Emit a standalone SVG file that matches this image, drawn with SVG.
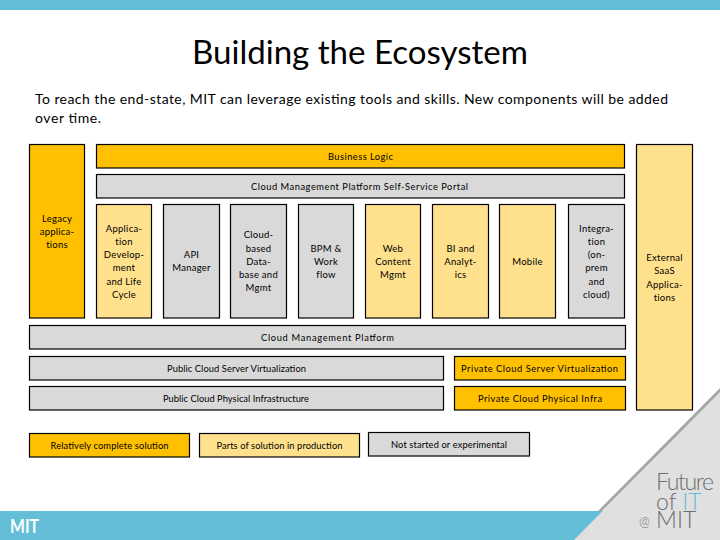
<svg xmlns="http://www.w3.org/2000/svg" width="720" height="540" viewBox="0 0 720 540">
<style>
text{font-family:"Lato","Carlito","Open Sans",sans-serif;fill:#000}
.l{font-size:9.5px;text-anchor:middle;letter-spacing:.25px}
.w{font-size:9.3px;text-anchor:middle}
.b{stroke:#000;stroke-width:1.2}
.o{fill:#ffc000}.y{fill:#ffe08c}.g{fill:#d9d9d9}
.f{fill:#6e6e6e;font-weight:300}
</style>
<rect width="720" height="540" fill="#fff"/>
<rect width="720" height="10" fill="#64bed8"/>
<rect y="511" width="610" height="29" fill="#64bed8"/>
<polygon points="720,388 720,393 602,511 598,511" fill="#a6a6a6"/>
<polygon points="720,392 720,540 574,540" fill="#e0e0e0"/>
<text x="10" y="533" font-size="19" font-weight="700" style="fill:#fff" textLength="29" lengthAdjust="spacingAndGlyphs">MIT</text>
<g id="logo">
<text class="f" font-size="23"><tspan x="656" y="490" textLength="58">Future</tspan><tspan x="656" y="510">of <tspan style="fill:#64bed8">IT</tspan></tspan><tspan x="639" y="526" font-size="13">@</tspan><tspan x="656" y="528">MIT</tspan></text>
</g>
<text x="360" y="64" font-size="33" text-anchor="middle" textLength="336" lengthAdjust="spacingAndGlyphs">Building the Ecosystem</text>
<text x="35" y="104" font-size="14" textLength="633" lengthAdjust="spacing">To reach the end-state, MIT can leverage existing tools and skills.  New components will be added</text>
<text x="35" y="123" font-size="14" textLength="66" lengthAdjust="spacing">over time.</text>
<g id="legacy"><rect class="b o" x="29.5" y="144.5" width="55" height="173.5"/><text class="l"><tspan x="57" y="222">Legacy</tspan><tspan x="57" y="235">applica-</tspan><tspan x="57" y="248">tions</tspan></text></g>
<g id="business-logic"><rect class="b o" x="96.5" y="144.5" width="528" height="23.5"/><text class="w" x="360.500" y="160" textLength="65">Business Logic</text></g>
<g id="portal"><rect class="b g" x="96.500" y="174.500" width="528" height="23.500"/><text class="w" x="359.500" y="190" textLength="217">Cloud Management Platform Self-Service Portal</text></g>
<g id="app-dev"><rect class="b y" x="96.5" y="204.5" width="55" height="113.500"/><text class="l"><tspan x="124" y="232">Applica-</tspan><tspan x="124" y="245">tion</tspan><tspan x="124" y="258">Develop-</tspan><tspan x="124" y="271">ment</tspan><tspan x="124" y="285">and Life</tspan><tspan x="124" y="298">Cycle</tspan></text></g>
<g id="api"><rect class="b g" x="163.500" y="204.500" width="56" height="113.500"/><text class="l"><tspan x="191.500" y="258">API</tspan><tspan x="191.500" y="271">Manager</tspan></text></g>
<g id="db"><rect class="b g" x="230.500" y="204.500" width="56" height="113.500"/><text class="l"><tspan x="258.500" y="238">Cloud-</tspan><tspan x="258.500" y="252">based</tspan><tspan x="258.500" y="265">Data-</tspan><tspan x="258.500" y="278">base and</tspan><tspan x="258.500" y="291">Mgmt</tspan></text></g>
<g id="bpm"><rect class="b g" x="298.500" y="204.500" width="55" height="113.500"/><text class="l"><tspan x="326" y="252">BPM &amp;</tspan><tspan x="326" y="265">Work</tspan><tspan x="326" y="278">flow</tspan></text></g>
<g id="web"><rect class="b y" x="365.500" y="204.500" width="55" height="113.500"/><text class="l"><tspan x="393" y="252">Web</tspan><tspan x="393" y="265">Content</tspan><tspan x="393" y="278">Mgmt</tspan></text></g>
<g id="bi"><rect class="b y" x="432.500" y="204.500" width="56" height="113.500"/><text class="l"><tspan x="460.500" y="252">BI and</tspan><tspan x="460.500" y="265">Analyt-</tspan><tspan x="460.500" y="278">ics</tspan></text></g>
<g id="mobile"><rect class="b y" x="499.500" y="204.500" width="56" height="113.500"/><text class="l" x="527.500" y="265">Mobile</text></g>
<g id="integration"><rect class="b g" x="568.500" y="204.500" width="56" height="113.500"/><text class="l"><tspan x="596.500" y="232">Integra-</tspan><tspan x="596.500" y="245">tion</tspan><tspan x="596.500" y="258">(on-</tspan><tspan x="596.500" y="271">prem</tspan><tspan x="596.500" y="285">and</tspan><tspan x="596.500" y="298">cloud)</tspan></text></g>
<g id="external"><rect class="b y" x="636.500" y="144.500" width="56" height="265.500"/><text class="l"><tspan x="664.500" y="261">External</tspan><tspan x="664.500" y="274">SaaS</tspan><tspan x="664.500" y="288">Applica-</tspan><tspan x="664.500" y="301">tions</tspan></text></g>
<g id="platform"><rect class="b g" x="29.500" y="325.500" width="596" height="23.500"/><text class="w" x="327.500" y="341" textLength="133">Cloud Management Platform</text></g>
<g id="public-virt"><rect class="b g" x="29.500" y="356.500" width="414" height="23.500"/><text class="w" x="236.500" y="372" textLength="139">Public Cloud Server Virtualization</text></g>
<g id="public-infra"><rect class="b g" x="29.500" y="386.500" width="414" height="23.500"/><text class="w" x="236" y="402" textLength="146">Public Cloud Physical Infrastructure</text></g>
<g id="private-virt"><rect class="b o" x="454.500" y="356.500" width="171" height="23.500"/><text class="w" x="539.500" y="372" textLength="157">Private Cloud Server Virtualization</text></g>
<g id="private-infra"><rect class="b o" x="454.500" y="386.500" width="171" height="23.500"/><text class="w" x="540" y="402" textLength="124">Private Cloud Physical Infra</text></g>
<g id="legend-complete"><rect class="b o" x="29.500" y="433.500" width="160" height="23.500"/><text class="w" x="109.500" y="449" textLength="118">Relatively complete solution</text></g>
<g id="legend-parts"><rect class="b y" x="199.500" y="433.500" width="160" height="23.500"/><text class="w" x="279.500" y="449" textLength="126">Parts of solution in production</text></g>
<g id="legend-none"><rect class="b g" x="368.500" y="432.500" width="161" height="23.500"/><text class="w" x="449" y="448" textLength="116">Not started or experimental</text></g>
<g id="connectors"></g>
</svg>
